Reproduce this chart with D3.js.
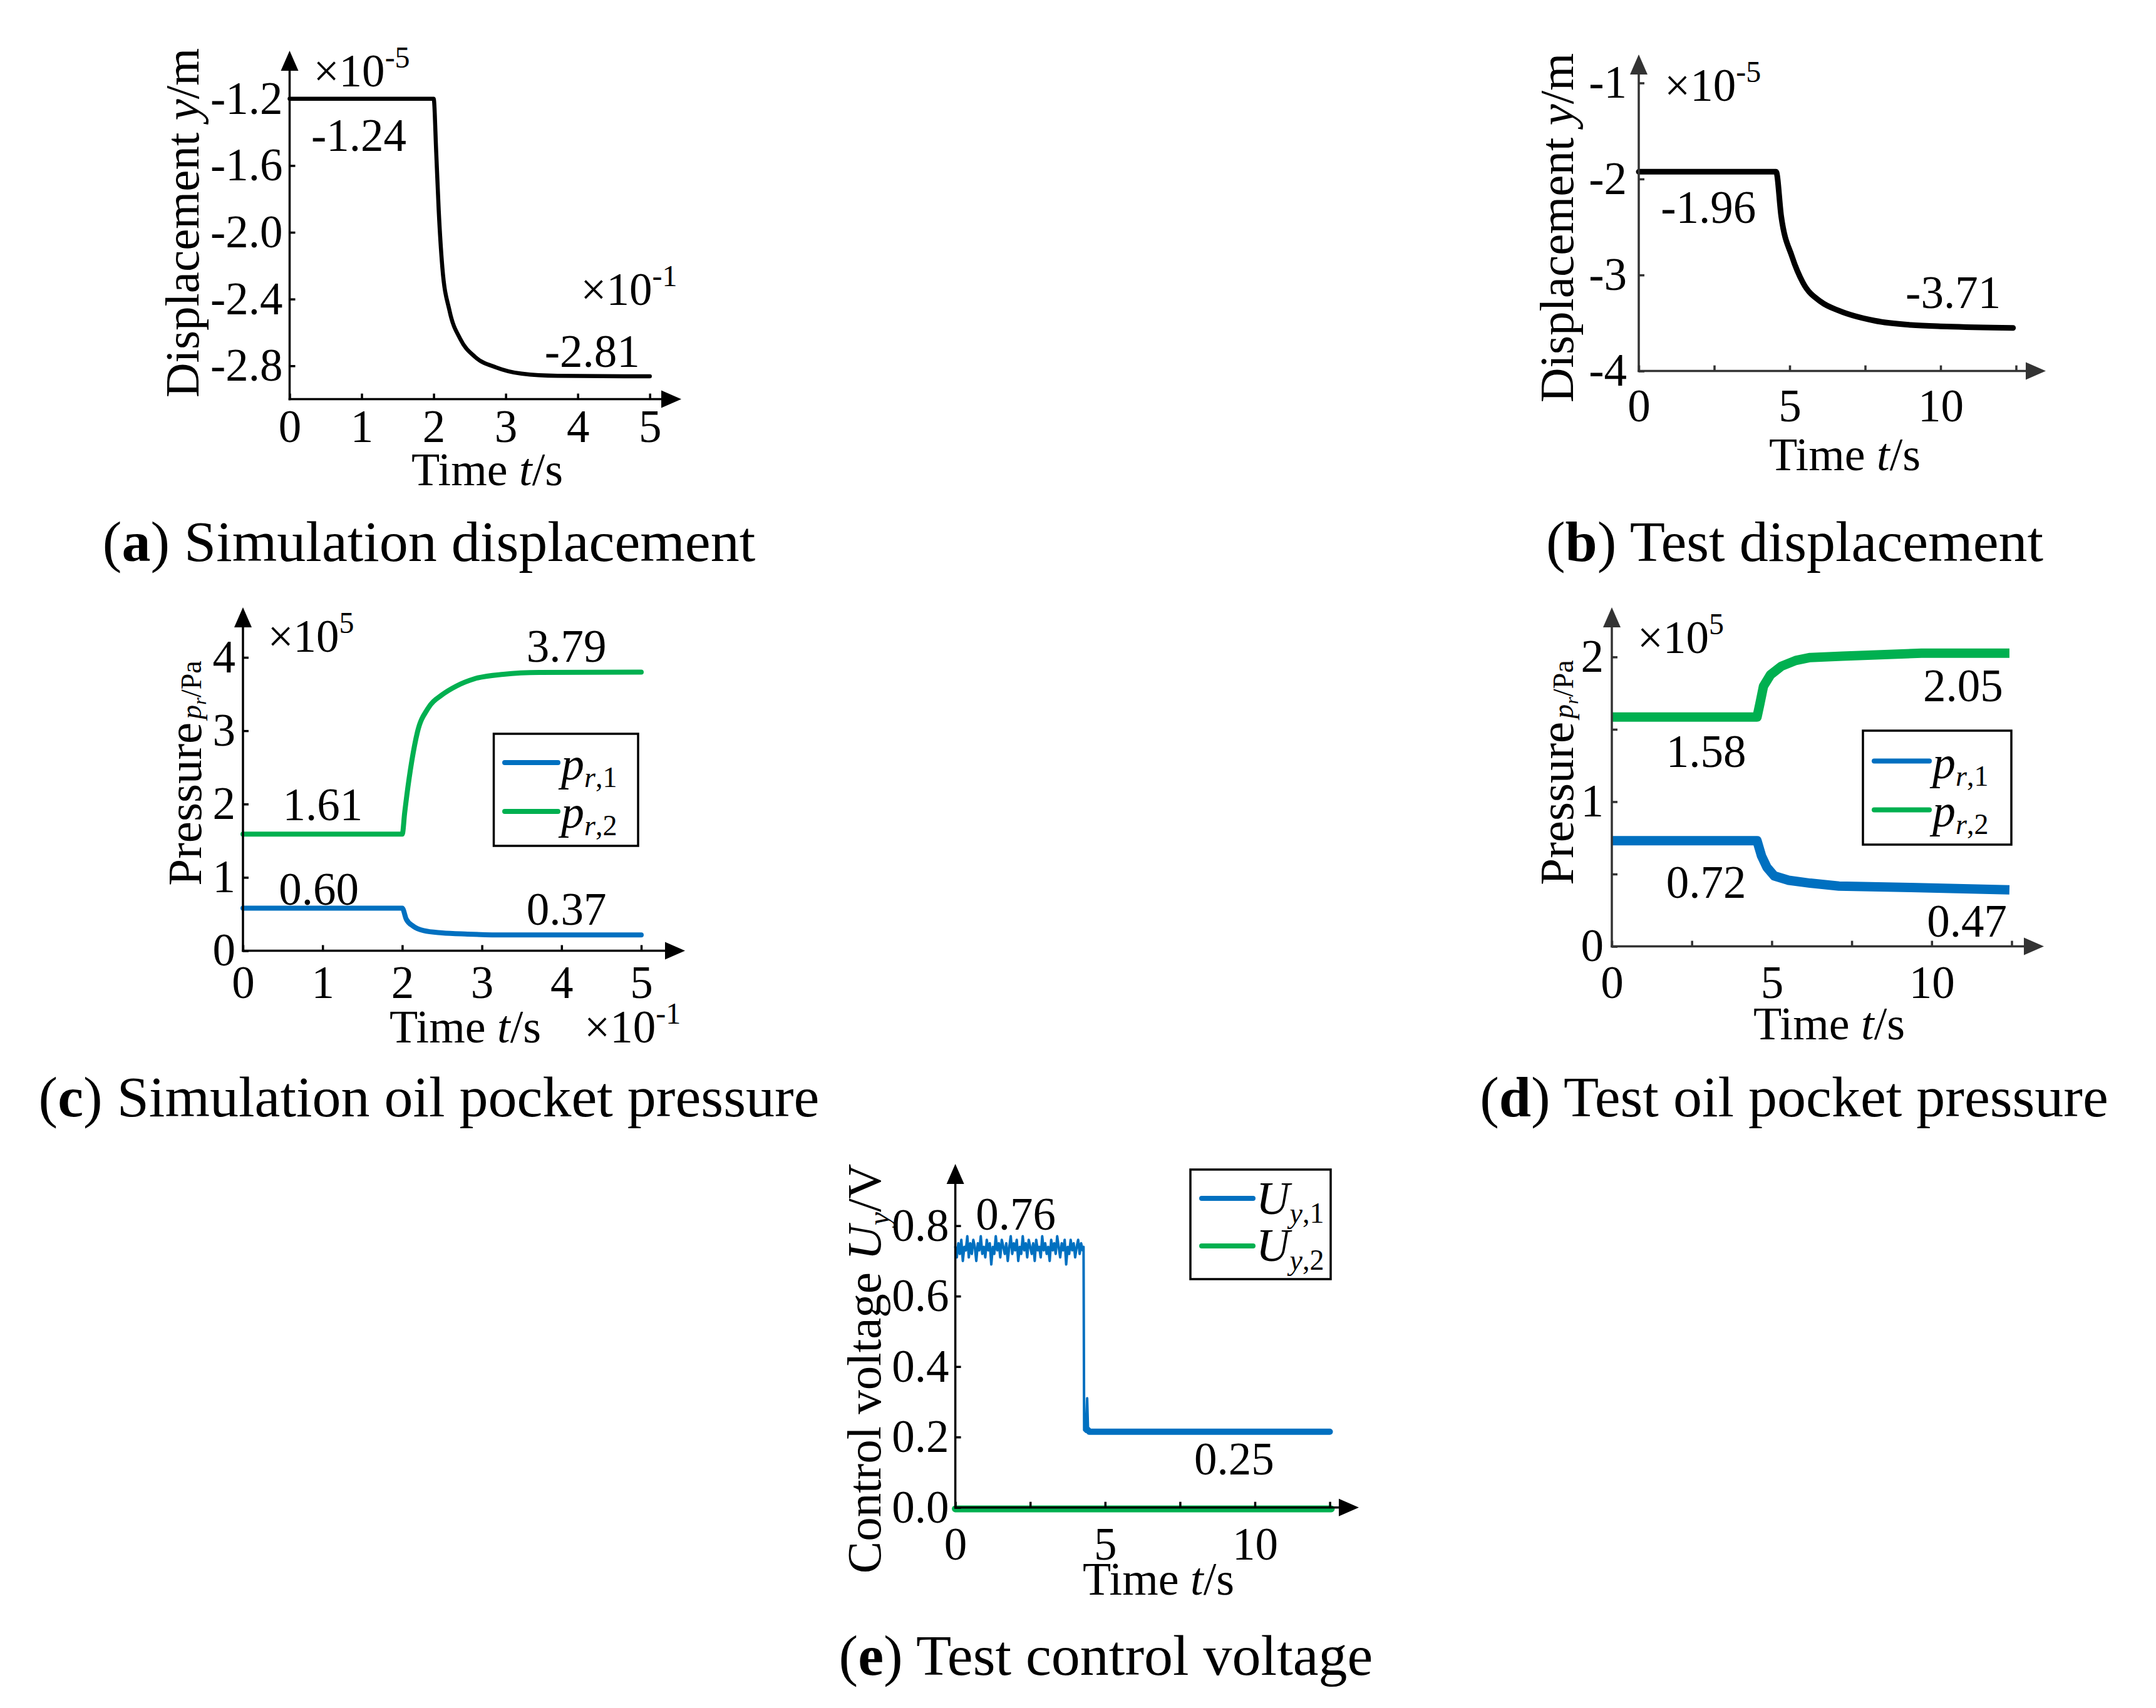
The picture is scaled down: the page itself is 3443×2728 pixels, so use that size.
<!DOCTYPE html>
<html><head><meta charset="utf-8">
<script src="https://cdn.jsdelivr.net/npm/d3@7"></script>
<style>body{margin:0;background:#fff} svg{display:block}</style>
</head><body><svg id="c" width="3443" height="2728"></svg>
<script>
// ---------------- data ----------------
// (a) simulation displacement (x10^-5 m) vs time (x10^-1 s)
const simTimeA = [0, 2.0, 2.035, 2.07, 2.12, 2.22, 2.37, 2.57, 2.87, 3.22, 3.72, 5.0];
const simDispA = [-1.2, -1.2, -1.52, -1.87, -2.21, -2.47, -2.64, -2.745, -2.81, -2.847, -2.86, -2.863];
// (b) test displacement
const testTimeB = [0, 4.55, 4.72, 5.08, 5.44, 6.04, 6.63, 7.82, 9.01, 10.2, 12.4];
const testDispB = [-1.925, -1.925, -2.39, -2.81, -3.08, -3.28, -3.371, -3.476, -3.52, -3.536, -3.551];
// (c) simulation pressures (x10^5 Pa)
const simTimeC2 = [0, 2.0, 2.03, 2.12, 2.19, 2.32, 2.5, 2.68, 2.91, 3.27, 3.72, 5.0];
const simP2C    = [1.59, 1.59, 1.88, 2.59, 2.98, 3.30, 3.49, 3.61, 3.71, 3.77, 3.795, 3.80];
const simTimeC1 = [0, 2.0, 2.05, 2.14, 2.27, 2.5, 2.82, 3.27, 5.0];
const simP1C    = [0.58, 0.58, 0.43, 0.333, 0.274, 0.243, 0.227, 0.215, 0.215];
// (d) test pressures
const testTimeD2 = [0, 4.54, 4.63, 4.74, 4.96, 5.3, 5.75, 6.2, 7.21, 9.68, 12.43];
const testP2D    = [1.585, 1.585, 1.678, 1.797, 1.877, 1.936, 1.976, 1.996, 2.006, 2.026, 2.026];
const testTimeD1 = [0, 4.54, 4.68, 4.85, 5.08, 5.53, 6.2, 7.1, 9.35, 12.43];
const testP1D    = [0.73, 0.73, 0.625, 0.546, 0.487, 0.457, 0.437, 0.417, 0.407, 0.391];
// (e) test control voltage
const voltTimeE1 = [0,0.05,0.1,0.15,0.2,0.25,0.3,0.35,0.4,0.45,0.5,0.55,0.6,0.65,0.7,0.75,0.8,0.85,0.9,0.95,
  1.0,1.05,1.1,1.15,1.2,1.25,1.3,1.35,1.4,1.45,1.5,1.55,1.6,1.65,1.7,1.75,1.8,1.85,1.9,1.95,
  2.0,2.05,2.1,2.15,2.2,2.25,2.3,2.35,2.4,2.45,2.5,2.55,2.6,2.65,2.7,2.75,2.8,2.85,2.9,2.95,
  3.0,3.05,3.1,3.15,3.2,3.25,3.3,3.35,3.4,3.45,3.5,3.55,3.6,3.65,3.7,3.75,3.8,3.85,3.9,3.95,
  4.0,4.05,4.1,4.15,4.2,4.25,4.28,4.30,4.36,4.40,4.43,4.47,12.5];
const voltE1 = [0.74,0.71,0.75,0.72,0.76,0.70,0.74,0.73,0.77,0.71,0.75,0.72,0.76,0.74,0.70,0.75,0.73,0.77,0.72,0.74,
  0.71,0.76,0.73,0.75,0.69,0.74,0.72,0.77,0.73,0.75,0.71,0.76,0.74,0.72,0.75,0.70,0.74,0.77,0.72,0.75,
  0.73,0.76,0.70,0.74,0.72,0.77,0.73,0.75,0.71,0.76,0.74,0.72,0.75,0.70,0.76,0.73,0.74,0.71,0.77,0.73,
  0.75,0.72,0.74,0.70,0.76,0.73,0.75,0.72,0.77,0.74,0.71,0.75,0.73,0.76,0.69,0.74,0.72,0.76,0.73,0.75,
  0.71,0.74,0.76,0.72,0.75,0.73,0.74,0.22,0.215,0.31,0.22,0.215,0.215];
const voltTimeE2 = [0, 12.55];
const voltE2     = [-0.004, -0.004];

// tick values / labels
const ticksA_x = [0,1,2,3,4,5], ticksA_y = [-2.8,-2.4,-2.0,-1.6,-1.2];
const ticksB_x = [0,2.5,5,7.5,10,12.5], labelsB_x = [0,5,10], ticksB_y = [-4,-3,-2,-1];
const ticksC_x = [0,1,2,3,4,5], ticksC_y = [0,1,2,3,4];
const ticksD_x = [0,2.5,5,7.5,10,12.5], labelsD_x = [0,5,10], ticksD_y = [0,0.5,1,1.5,2], labelsD_y = [0,1,2];
const ticksE_x = [0,2.5,5,7.5,10,12.5], labelsE_x = [0,5,10], ticksE_y = [0,0.2,0.4,0.6,0.8];

const BLUE = '#0070C0', GREEN = '#00B050';
const FONT = '"Liberation Serif","Times New Roman",serif';
const svg = d3.select('#c');

function zip(t, v){ return t.map((d,i)=>[d, v[i]]); }

function panel(cfg){
  const g = svg.append('g');
  const x = d3.scaleLinear().domain(cfg.xd).range(cfg.xr);
  const y = d3.scaleLinear().domain(cfg.yd).range(cfg.yr);
  const ox = cfg.xr[0], oy = cfg.yr[0];
  cfg.series.forEach(s => {
    let pts = zip(s.t, s.v);
    if (s.filter) pts = pts.filter(s.filter);
    g.append('path').datum(pts).attr('fill','none').attr('stroke', s.color)
      .attr('stroke-width', s.w).attr('stroke-linejoin','round').attr('stroke-linecap', s.cap || 'round')
      .attr('d', d3.line().x(d=>x(d[0])).y(d=>y(d[1])).curve(s.curve || d3.curveLinear));
  });
  const ac = cfg.ac;
  const xa = d3.axisBottom(x).tickValues(cfg.xt).tickSize(-9).tickSizeOuter(0).tickPadding(cfg.xpad)
    .tickFormat(d => (cfg.xl ? (cfg.xl.includes(d) ? String(d) : '') : String(d)));
  const gx = g.append('g').attr('transform', `translate(0,${oy})`).call(xa);
  gx.select('.domain').remove();
  gx.selectAll('line').attr('stroke', ac).attr('stroke-width', 3.5);
  gx.selectAll('text').attr('font-family', FONT).attr('font-size', 73).attr('fill', '#000');
  const ya = d3.axisLeft(y).tickValues(cfg.yt).tickSize(-9).tickSizeOuter(0).tickPadding(cfg.ypad)
    .tickFormat(d => (cfg.yl && !cfg.yl.includes(d)) ? '' : cfg.yf(d));
  const gy = g.append('g').attr('transform', `translate(${ox},0)`).call(ya);
  gy.select('.domain').remove();
  gy.selectAll('line').attr('stroke', ac).attr('stroke-width', 3.5);
  gy.selectAll('text').attr('font-family', FONT).attr('font-size', 73).attr('fill', '#000');
  const AL = 32, AW = 14;
  g.append('line').attr('x1', ox - 1.75).attr('x2', cfg.xEnd - AL + 2).attr('y1', oy).attr('y2', oy)
    .attr('stroke', ac).attr('stroke-width', 3.5);
  g.append('line').attr('x1', ox).attr('x2', ox).attr('y1', oy + 1.75).attr('y2', cfg.yEnd + AL - 2)
    .attr('stroke', ac).attr('stroke-width', 3.5);
  g.append('path').attr('fill', ac)
    .attr('d', `M${cfg.xEnd},${oy} L${cfg.xEnd-AL},${oy-AW} L${cfg.xEnd-AL},${oy+AW} Z`);
  g.append('path').attr('fill', ac)
    .attr('d', `M${ox},${cfg.yEnd} L${ox-AW},${cfg.yEnd+AL} L${ox+AW},${cfg.yEnd+AL} Z`);
  (cfg.notes || []).forEach(n => {
    const t = g.append('text').attr('x', x(n.t)).attr('y', y(n.v))
      .attr('font-family', FONT).attr('font-size', 73).attr('text-anchor', 'start');
    if (n.sup !== undefined) {
      t.append('tspan').text(n.text);
      t.append('tspan').attr('font-size', 48).attr('dy', -30).text(n.sup);
    } else t.text(n.text);
  });
  return {x, y, g};
}

function fmt1(d){ return d.toFixed(1); }

// ---------- (a) ----------
panel({
  xd:[0,5], xr:[462.5,1037.7], yd:[-3.0,-1.2], yr:[637.6,157.8], xEnd:1088, yEnd:81, ac:'#000',
  xt:ticksA_x, yt:ticksA_y, yf:fmt1, xpad:17, ypad:11,
  series:[{t:simTimeA, v:simDispA, color:'#000', w:6.5, curve:d3.curveMonotoneX}],
  notes:[{t:0.30, v:-1.512, text:'-1.24'}, {t:3.54, v:-2.805, text:'-2.81'},
         {t:0.33, v:-1.126, text:'×10', sup:'-5'}, {t:4.04, v:-2.435, text:'×10', sup:'-1'}]
});
// ---------- (b) ----------
panel({
  xd:[0,10], xr:[2617,3099], yd:[-4,-1], yr:[592.6,132.5], xEnd:3267, yEnd:87, ac:'#333',
  xt:ticksB_x, xl:labelsB_x, yt:ticksB_y, yf:d=>String(d), xpad:29, ypad:19,
  series:[{t:testTimeB, v:testDispB, color:'#000', w:9, curve:d3.curveMonotoneX}],
  notes:[{t:0.73, v:-2.457, text:'-1.96'}, {t:8.84, v:-3.341, text:'-3.71'},
         {t:0.85, v:-1.186, text:'×10', sup:'-5'}]
});
// ---------- (c) ----------
panel({
  xd:[0,5], xr:[388,1024], yd:[0,4], yr:[1518.5,1050], xEnd:1094, yEnd:970, ac:'#000',
  xt:ticksC_x, yt:ticksC_y, yf:d=>String(d), xpad:24, ypad:12,
  series:[{t:simTimeC1, v:simP1C, color:BLUE, w:8, curve:d3.curveMonotoneX},
          {t:simTimeC2, v:simP2C, color:GREEN, w:8, curve:d3.curveMonotoneX}],
  notes:[{t:0.31, v:4.08, text:'×10', sup:'5'}, {t:3.56, v:3.94, text:'3.79'},
         {t:0.50, v:1.78, text:'1.61'}, {t:0.45, v:0.63, text:'0.60'}, {t:3.56, v:0.354, text:'0.37'}]
});
// ---------- (d) ----------
panel({
  xd:[0,10], xr:[2574,3084.8], yd:[0,2], yr:[1511.6,1049.3], xEnd:3264, yEnd:970, ac:'#333',
  xt:ticksD_x, xl:labelsD_x, yt:ticksD_y, yl:labelsD_y, yf:d=>String(d), xpad:31, ypad:13,
  series:[{t:testTimeD1, v:testP1D, color:BLUE, w:15, cap:'butt'},
          {t:testTimeD2, v:testP2D, color:GREEN, w:15, cap:'butt'}],
  notes:[{t:0.80, v:2.027, text:'×10', sup:'5'}, {t:9.73, v:1.694, text:'2.05'},
         {t:1.70, v:1.241, text:'1.58'}, {t:1.70, v:0.337, text:'0.72'}, {t:9.85, v:0.069, text:'0.47'}]
});
// ---------- (e) ----------
panel({
  xd:[0,10], xr:[1525.6,2004], yd:[0,0.8], yr:[2407.7,1957.7], xEnd:2170, yEnd:1859, ac:'#000',
  xt:ticksE_x, xl:labelsE_x, yt:ticksE_y, yf:fmt1, xpad:31, ypad:10,
  series:[{t:voltTimeE2, v:voltE2, color:GREEN, w:11},
          {t:voltTimeE1, v:voltE1, color:BLUE, w:4},
          {t:voltTimeE1, v:voltE1, color:BLUE, w:10, filter:d=>d[0]>=4.43}],
  notes:[{t:0.68, v:0.788, text:'0.76'}, {t:7.97, v:0.094, text:'0.25'}]
});

// ---------- axis titles ----------
function timeTitle(cx, by){
  const t = svg.append('text').attr('x', cx).attr('y', by).attr('text-anchor','middle')
    .attr('font-family', FONT).attr('font-size', 74);
  t.append('tspan').text('Time ');
  t.append('tspan').attr('font-style','italic').text('t');
  t.append('tspan').text('/s');
  return t;
}
timeTitle(778, 775);
timeTitle(2946, 751);
timeTitle(743, 1665);
timeTitle(2921, 1660);
timeTitle(1850, 2547);
{
  const t = svg.append('text').attr('x', 933).attr('y', 1665).attr('font-family', FONT).attr('font-size', 73);
  t.append('tspan').text('×10');
  t.append('tspan').attr('font-size', 48).attr('dy', -30).text('-1');
}

function rotTitle(bx, cy){
  return svg.append('text').attr('transform', `translate(${bx},${cy}) rotate(-90)`)
    .attr('text-anchor','middle').attr('font-family', FONT).attr('font-size', 77);
}
[[317, 356], [2512, 364]].forEach(([bx, cy]) => {
  const t = rotTitle(bx, cy);
  t.append('tspan').text('Displacement ');
  t.append('tspan').attr('font-style','italic').text('y');
  t.append('tspan').text('/m');
});
[[321, 1235], [2512, 1234]].forEach(([bx, cy]) => {
  const t = rotTitle(bx, cy);
  t.append('tspan').text('Pressure');
  t.append('tspan').attr('font-size', 46).attr('font-style','italic').attr('dx', 5).text('p');
  t.append('tspan').attr('font-size', 30).attr('font-style','italic').attr('dy', 8).text('r');
  t.append('tspan').attr('font-size', 46).attr('dy', -8).text('/Pa');
});
{
  const t = rotTitle(1406, 2186);
  t.append('tspan').text('Control voltage ');
  t.append('tspan').attr('font-style','italic').text('U');
  t.append('tspan').attr('font-style','italic').attr('font-size', 48).attr('dy', 14).text('y');
  t.append('tspan').attr('dy', -14).text('/V');
}

// ---------- legends ----------
function legend(box, items, letter, sub){
  svg.append('rect').attr('x', box[0]).attr('y', box[1]).attr('width', box[2]).attr('height', box[3])
    .attr('fill', '#fff').attr('stroke', '#000').attr('stroke-width', 3.5);
  items.forEach(it => {
    svg.append('line').attr('x1', it.x1).attr('x2', it.x2).attr('y1', it.ly).attr('y2', it.ly)
      .attr('stroke', it.color).attr('stroke-width', 8).attr('stroke-linecap','round');
    const t = svg.append('text').attr('x', it.tx).attr('y', it.by).attr('font-family', FONT).attr('font-size', 74);
    t.append('tspan').attr('font-style','italic').text(letter);
    t.append('tspan').attr('font-style','italic').attr('font-size', 46).attr('dy', it.sdy).text(sub);
    t.append('tspan').attr('font-size', 46).text(',' + it.n);
  });
}
legend([788.5, 1172, 230.5, 179], [
  {x1:806, x2:891, ly:1218, tx:896, by:1245, sdy:12, color:BLUE, n:1},
  {x1:806, x2:891, ly:1296, tx:896, by:1322, sdy:12, color:GREEN, n:2}], 'p', 'r');
legend([2975, 1167, 237, 182], [
  {x1:2993, x2:3081, ly:1215.5, tx:3086, by:1243, sdy:12, color:BLUE, n:1},
  {x1:2993, x2:3081, ly:1293.5, tx:3086, by:1320, sdy:12, color:GREEN, n:2}], 'p', 'r');
legend([1901, 1868, 224, 175], [
  {x1:1919, x2:2001, ly:1914, tx:2006, by:1939, sdy:14, color:BLUE, n:1},
  {x1:1919, x2:2001, ly:1990, tx:2006, by:2014, sdy:14, color:GREEN, n:2}], 'U', 'y');

// ---------- captions ----------
function caption(cx, by, letter, rest){
  const t = svg.append('text').attr('x', cx).attr('y', by).attr('text-anchor','middle')
    .attr('font-family', FONT).attr('font-size', 92);
  t.append('tspan').text('(');
  t.append('tspan').attr('font-weight','bold').text(letter);
  t.append('tspan').text(') ' + rest);
}
caption(685, 896, 'a', 'Simulation displacement');
caption(2866, 896, 'b', 'Test displacement');
caption(685, 1783, 'c', 'Simulation oil pocket pressure');
caption(2865, 1783, 'd', 'Test oil pocket pressure');
caption(1766, 2675, 'e', 'Test control voltage');
</script>
</body></html>
